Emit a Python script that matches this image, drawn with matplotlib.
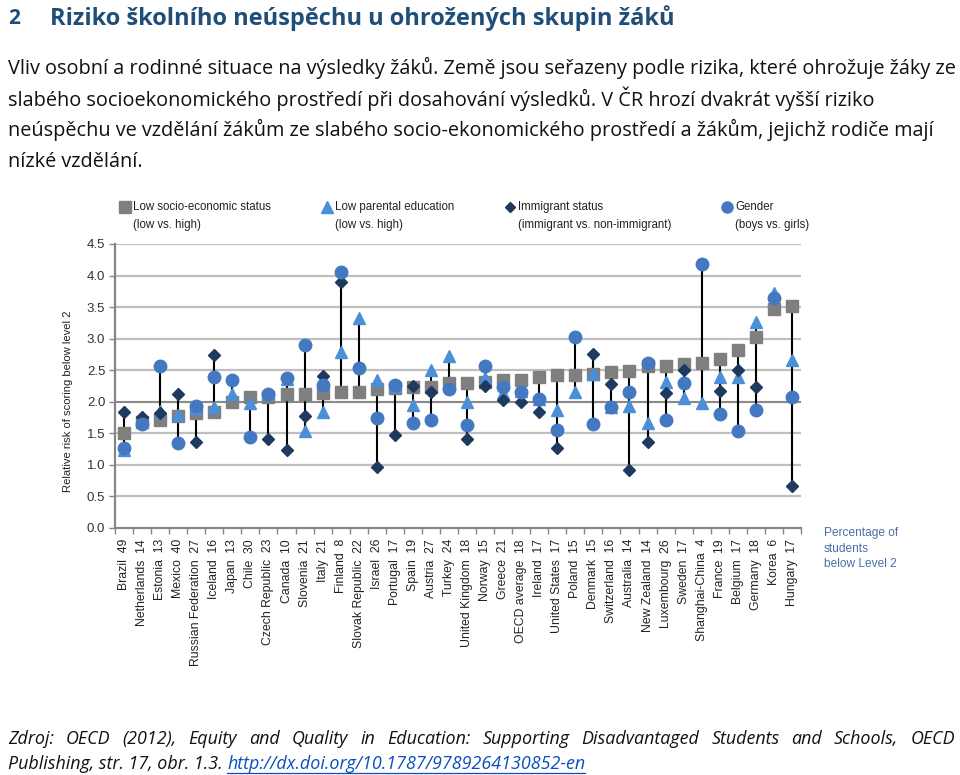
import numpy as np
import matplotlib
matplotlib.use("Agg")
import matplotlib.pyplot as plt
from matplotlib import font_manager as fm

# ---------------- data ----------------
countries = ["Brazil", "Netherlands", "Estonia", "Mexico", "Russian Federation", "Iceland",
             "Japan", "Chile", "Czech Republic", "Canada", "Slovenia", "Italy", "Finland",
             "Slovak Republic", "Israel", "Portugal", "Spain", "Austria", "Turkey",
             "United Kingdom", "Norway", "Greece", "OECD average", "Ireland", "United States",
             "Poland", "Denmark", "Switzerland", "Australia", "New Zealand", "Luxembourg",
             "Sweden", "Shanghai-China", "France", "Belgium", "Germany", "Korea", "Hungary"]
pct_below_l2 = [49, 14, 13, 40, 27, 16, 13, 30, 23, 10, 21, 21, 8, 22, 26, 17, 19, 27, 24,
                18, 15, 21, 18, 17, 17, 15, 15, 16, 14, 14, 26, 17, 4, 19, 17, 18, 6, 17]
nan = np.nan
low_ses = [1.51, 1.68, 1.71, 1.77, 1.82, 1.84, 1.99, 2.08, 2.08, 2.12, 2.12, 2.14, 2.15,
           2.15, 2.20, 2.22, 2.24, 2.24, 2.29, 2.29, 2.32, 2.35, 2.35, 2.39, 2.42, 2.42,
           2.44, 2.47, 2.49, 2.56, 2.57, 2.60, 2.62, 2.67, 2.82, 3.03, 3.47, 3.51]
low_parent = [1.23, 1.70, 1.85, 1.79, 1.90, 1.92, 2.13, 1.98, 2.12, 2.36, 1.53, 1.84, 2.79,
              3.32, 2.35, 2.25, 1.95, 2.50, 2.73, 1.99, 2.38, 2.14, 2.17, 2.04, 1.87, 2.16,
              2.44, 1.92, 1.94, 1.66, 2.32, 2.06, 1.98, 2.40, 2.40, 3.27, 3.72, 2.66]
immigrant = [1.84, 1.76, 1.82, 2.13, 1.37, 2.74, nan, nan, 1.41, 1.23, 1.78, 2.41, 3.90,
             nan, 0.96, 1.47, 2.25, 2.15, nan, 1.41, 2.25, 2.03, 1.99, 1.84, 1.27, nan,
             2.75, 2.28, 0.92, 1.37, 2.14, 2.50, nan, 2.17, 2.50, 2.23, nan, 0.67]
gender = [1.27, 1.65, 2.56, 1.34, 1.93, 2.40, 2.35, 1.44, 2.13, 2.38, 2.90, 2.26, 4.06,
          2.54, 1.74, 2.26, 1.66, 1.71, 2.21, 1.63, 2.56, 2.24, 2.16, 2.04, 1.55, 3.03,
          1.65, 1.91, 2.15, 2.62, 1.71, 2.29, 4.18, 1.80, 1.54, 1.87, 3.64, 2.07]
yticks = [0.0, 0.5, 1.0, 1.5, 2.0, 2.5, 3.0, 3.5, 4.0, 4.5]

legend_labels = [("Low socio-economic status", "(low vs. high)"),
                 ("Low parental education", "(low vs. high)"),
                 ("Immigrant status", "(immigrant vs. non-immigrant)"),
                 ("Gender", "(boys vs. girls)")]

heading_num = "2"
heading = "Riziko školního neúspěchu u ohrožených skupin žáků"
body_lines = ["Vliv osobní a rodinné situace na výsledky žáků. Země jsou seřazeny podle rizika, které ohrožuje žáky ze",
              "slabého socioekonomického prostředí při dosahování výsledků. V ČR hrozí dvakrát vyšší riziko",
              "neúspěchu ve vzdělání žákům ze slabého socio-ekonomického prostředí a žákům, jejichž rodiče mají",
              "nízké vzdělání."]
foot1 = "Zdroj: OECD (2012), Equity and Quality in Education: Supporting Disadvantaged Students and Schools, OECD"
foot2a = "Publishing, str. 17, obr. 1.3. "
foot2b = "http://dx.doi.org/10.1787/9789264130852-en"

# ---------------- fonts ----------------
names = {f.name for f in fm.fontManager.ttflist}
narrow = "Liberation Sans Narrow" if "Liberation Sans Narrow" in names else "Liberation Sans"
body_font = "Open Sans" if "Open Sans" in names else "DejaVu Sans"
plt.rcParams["font.family"] = [body_font, "DejaVu Sans"]

# ---------------- colours ----------------
c_sq = "#7F7F7F"
c_tri = "#4A8FD8"
c_dia = "#1F3A5F"
c_cir = "#4479C2"

W, H = 960, 775
fig = plt.figure(figsize=(W / 100, H / 100), dpi=100)
fig.patch.set_facecolor("white")

# overlay for page text (pixel coordinates)
ov = fig.add_axes([0, 0, 1, 1])
ov.set_xlim(0, W)
ov.set_ylim(H, 0)
ov.axis("off")

renderer = fig.canvas.get_renderer()


def fit(t, width):
    bb = t.get_window_extent(renderer)
    t.set_fontsize(t.get_fontsize() * width / bb.width)
    return t


# heading
ov.text(8, 18, heading_num, fontsize=15, fontweight="bold", color="#1F4E79",
        va="center", ha="left")
t = ov.text(50, 18, heading, fontsize=15, fontweight="bold", color="#1F4E79",
            va="center", ha="left")
fit(t, 627)

# body
t0 = ov.text(8, 68, body_lines[0], fontsize=12, color="#111111", va="center", ha="left")
fit(t0, 943)
fs_body = t0.get_fontsize()
for line, yy in zip(body_lines[1:], [99, 130, 162]):
    ov.text(8, yy, line, fontsize=fs_body, color="#111111", va="center", ha="left")

# footer
t2 = ov.text(8, 764, foot2a, fontsize=12, style="italic", color="#111111",
             va="center", ha="left")
fit(t2, 220)
fs_f = t2.get_fontsize()
bb2 = t2.get_window_extent(renderer)
x_url = bb2.x1
tu = ov.text(x_url, 764, foot2b, fontsize=fs_f, style="italic", color="#0B4DBE",
             va="center", ha="left")
bbu = tu.get_window_extent(renderer)
ov.plot([bbu.x0, bbu.x1], [773, 773], color="#0B4DBE", lw=0.9)
# justified first footer line
words = foot1.split()
ws = []
objs = []
for w in words:
    o = ov.text(0, 739, w, fontsize=fs_f, style="italic", color="#111111",
                va="center", ha="left")
    objs.append(o)
    ws.append(o.get_window_extent(renderer).width)
gap = (955 - 8 - sum(ws)) / (len(words) - 1)
xx = 8
for o, w in zip(objs, ws):
    o.set_x(xx)
    xx += w + gap

# ---------------- main chart ----------------
ax = fig.add_axes([115 / W, 1 - 528 / H, 686 / W, 284 / H])
x = np.arange(len(countries))
allv = np.vstack([low_ses, low_parent, immigrant, gender]).astype(float)
lo = np.nanmin(allv, axis=0)
hi = np.nanmax(allv, axis=0)

for yv in yticks[1:]:
    ax.axhline(yv, color="#BFBFBF", lw=1.6, zorder=0)
ax.axhline(2.0, color="#7A7A7A", lw=1.1, zorder=0.5)

ax.vlines(x, lo, hi, color="black", lw=1.5, zorder=1)
ax.plot(x, low_ses, ls="none", marker="s", ms=8.5, color=c_sq, zorder=2)
ax.plot(x, low_parent, ls="none", marker="^", ms=9, color=c_tri, zorder=3)
ax.plot(x, immigrant, ls="none", marker="D", ms=6, color=c_dia, zorder=4)
ax.plot(x, gender, ls="none", marker="o", ms=9, color=c_cir, zorder=5)

ax.set_xlim(-0.5, len(countries) - 0.5)
ax.set_ylim(0, 4.5)
ax.set_yticks(yticks)
ax.set_yticklabels([f"{v:.1f}" for v in yticks], family=narrow, fontsize=9.5,
                   color="#333333")
ax.tick_params(axis="y", length=4, color="#868686", width=1, pad=3)
ax.set_xticks(x)
ax.set_xticklabels([f"{c}  {p}" for c, p in zip(countries, pct_below_l2)],
                   rotation=90, family=narrow, fontsize=8.8, color="#222222")
ax.tick_params(axis="x", length=0, pad=8)
ax.set_xticks(np.arange(-0.5, len(countries), 1.0), minor=True)
ax.tick_params(axis="x", which="minor", length=4, color="#868686", width=1)
for s in ["top", "right"]:
    ax.spines[s].set_visible(False)
for s in ["left", "bottom"]:
    ax.spines[s].set_color("#868686")
    ax.spines[s].set_linewidth(1.6)
ax.set_facecolor("none")

ty = ov.text(68, 401, "Relative risk of scoring below level 2", rotation=90,
             family=narrow, fontsize=9.5, color="#222222",
             va="center", ha="center")
bb = ty.get_window_extent(renderer)
ty.set_fontsize(ty.get_fontsize() * 183 / bb.height)

tp = ov.text(824, 533, "Percentage of", family=narrow, fontsize=9.5,
             color="#4A6FA5", va="center", ha="left")
fit(tp, 74)
fs_p = tp.get_fontsize()
ov.text(824, 549, "students", family=narrow, fontsize=fs_p, color="#4A6FA5",
        va="center", ha="left")
ov.text(824, 564, "below Level 2", family=narrow, fontsize=fs_p, color="#4A6FA5",
        va="center", ha="left")

# legend (drawn manually)
leg_x = [125, 327, 510, 727]
leg_m = [("s", c_sq, 8), ("^", c_tri, 8.5), ("D", c_dia, 5.5), ("o", c_cir, 8)]
tl = ov.text(0, 0, legend_labels[0][0], family=narrow, fontsize=9.5)
fit(tl, 139)
fs_l = tl.get_fontsize()
tl.remove()
for (l1, l2), lx, (m, c, ms) in zip(legend_labels, leg_x, leg_m):
    ov.plot([lx], [207], marker=m, color=c, ms=ms, ls="none")
    ov.text(lx + 8, 207, l1, family=narrow, fontsize=fs_l,
            color="#222222", va="center", ha="left")
    ov.text(lx + 8, 225, l2, family=narrow, fontsize=fs_l,
            color="#222222", va="center", ha="left")

fig.savefig("out.png", dpi=100, facecolor="white")
